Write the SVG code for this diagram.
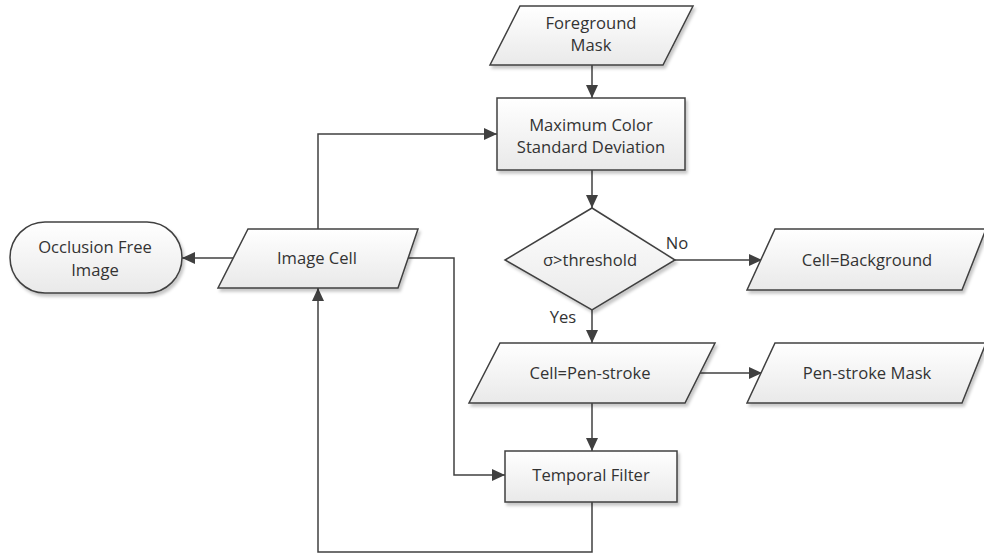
<svg xmlns="http://www.w3.org/2000/svg" width="984" height="556" viewBox="0 0 984 556">
  <defs>
    <linearGradient id="fillGrad" x1="0" y1="0" x2="0" y2="1">
      <stop offset="0" stop-color="#ffffff"/>
      <stop offset="1" stop-color="#e9e9e9"/>
    </linearGradient>
    <filter id="shadow" x="-10%" y="-10%" width="130%" height="140%">
      <feDropShadow dx="2" dy="3" stdDeviation="1.5" flood-color="#000" flood-opacity="0.22"/>
    </filter>
    <marker id="arrow" viewBox="0 0 13 12" refX="13" refY="6" markerWidth="13" markerHeight="12" markerUnits="userSpaceOnUse" orient="auto">
      <path d="M0,0 L13,6 L0,12 z" fill="#404040"/>
    </marker>
  </defs>
  <style>
    .shape { fill: url(#fillGrad); stroke: #404040; stroke-width: 1.5; filter: url(#shadow); }
    .conn { fill: none; stroke: #404040; stroke-width: 1.5; marker-end: url(#arrow); }
    text { font-family: "Open Sans", "Liberation Sans", sans-serif; font-size: 16.6px; fill: #333333; text-anchor: middle; }
  </style>

  <rect width="984" height="556" fill="#ffffff"/>

  <!-- connectors -->
  <g id="connectors">
    <path class="conn" d="M592,65 V98"/>
    <path class="conn" d="M592,170 V208"/>
    <path class="conn" d="M675,260 H762"/>
    <path class="conn" d="M592,310 V343"/>
    <path class="conn" d="M699,373 H762"/>
    <path class="conn" d="M592,403 V451"/>
    <path class="conn" d="M318,229 V134 H497"/>
    <path class="conn" d="M233,258 H182"/>
    <path class="conn" d="M408,258 H454 V475 H505"/>
    <path class="conn" d="M592,502 V552 H318 V288"/>
    <text x="677" y="249">No</text>
    <text x="563" y="323">Yes</text>
  </g>

  <!-- nodes -->
  <g id="foreground-mask">
    <polygon class="shape" points="520,6 693,6 663,65 490,65"/>
    <text x="591" y="29">Foreground</text>
    <text x="591" y="51">Mask</text>
  </g>

  <g id="max-color-std">
    <rect class="shape" x="497" y="98" width="188" height="72"/>
    <text x="591" y="131">Maximum Color</text>
    <text x="591" y="153">Standard Deviation</text>
  </g>

  <g id="threshold">
    <polygon class="shape" points="592,208 675,260 592,310 505,260"/>
    <text x="590" y="266">σ&gt;threshold</text>
  </g>

  <g id="cell-background">
    <polygon class="shape" points="775,229 986,229 962,290 747,290"/>
    <text x="867" y="266">Cell=Background</text>
  </g>

  <g id="cell-pen-stroke">
    <polygon class="shape" points="500,343 715,343 685,403 469,403"/>
    <text x="590" y="379">Cell=Pen-stroke</text>
  </g>

  <g id="pen-stroke-mask">
    <polygon class="shape" points="775,343 986,343 962,403 747,403"/>
    <text x="867" y="379">Pen-stroke Mask</text>
  </g>

  <g id="temporal-filter">
    <rect class="shape" x="505" y="451" width="172" height="51"/>
    <text x="591" y="481">Temporal Filter</text>
  </g>

  <g id="image-cell">
    <polygon class="shape" points="248,229 418,229 398,288 218,288"/>
    <text x="317" y="264">Image Cell</text>
  </g>

  <g id="occlusion-free-image">
    <rect class="shape" x="10" y="222" width="172" height="71" rx="35" ry="35.5"/>
    <text x="95" y="253">Occlusion Free</text>
    <text x="95" y="276">Image</text>
  </g>
</svg>
